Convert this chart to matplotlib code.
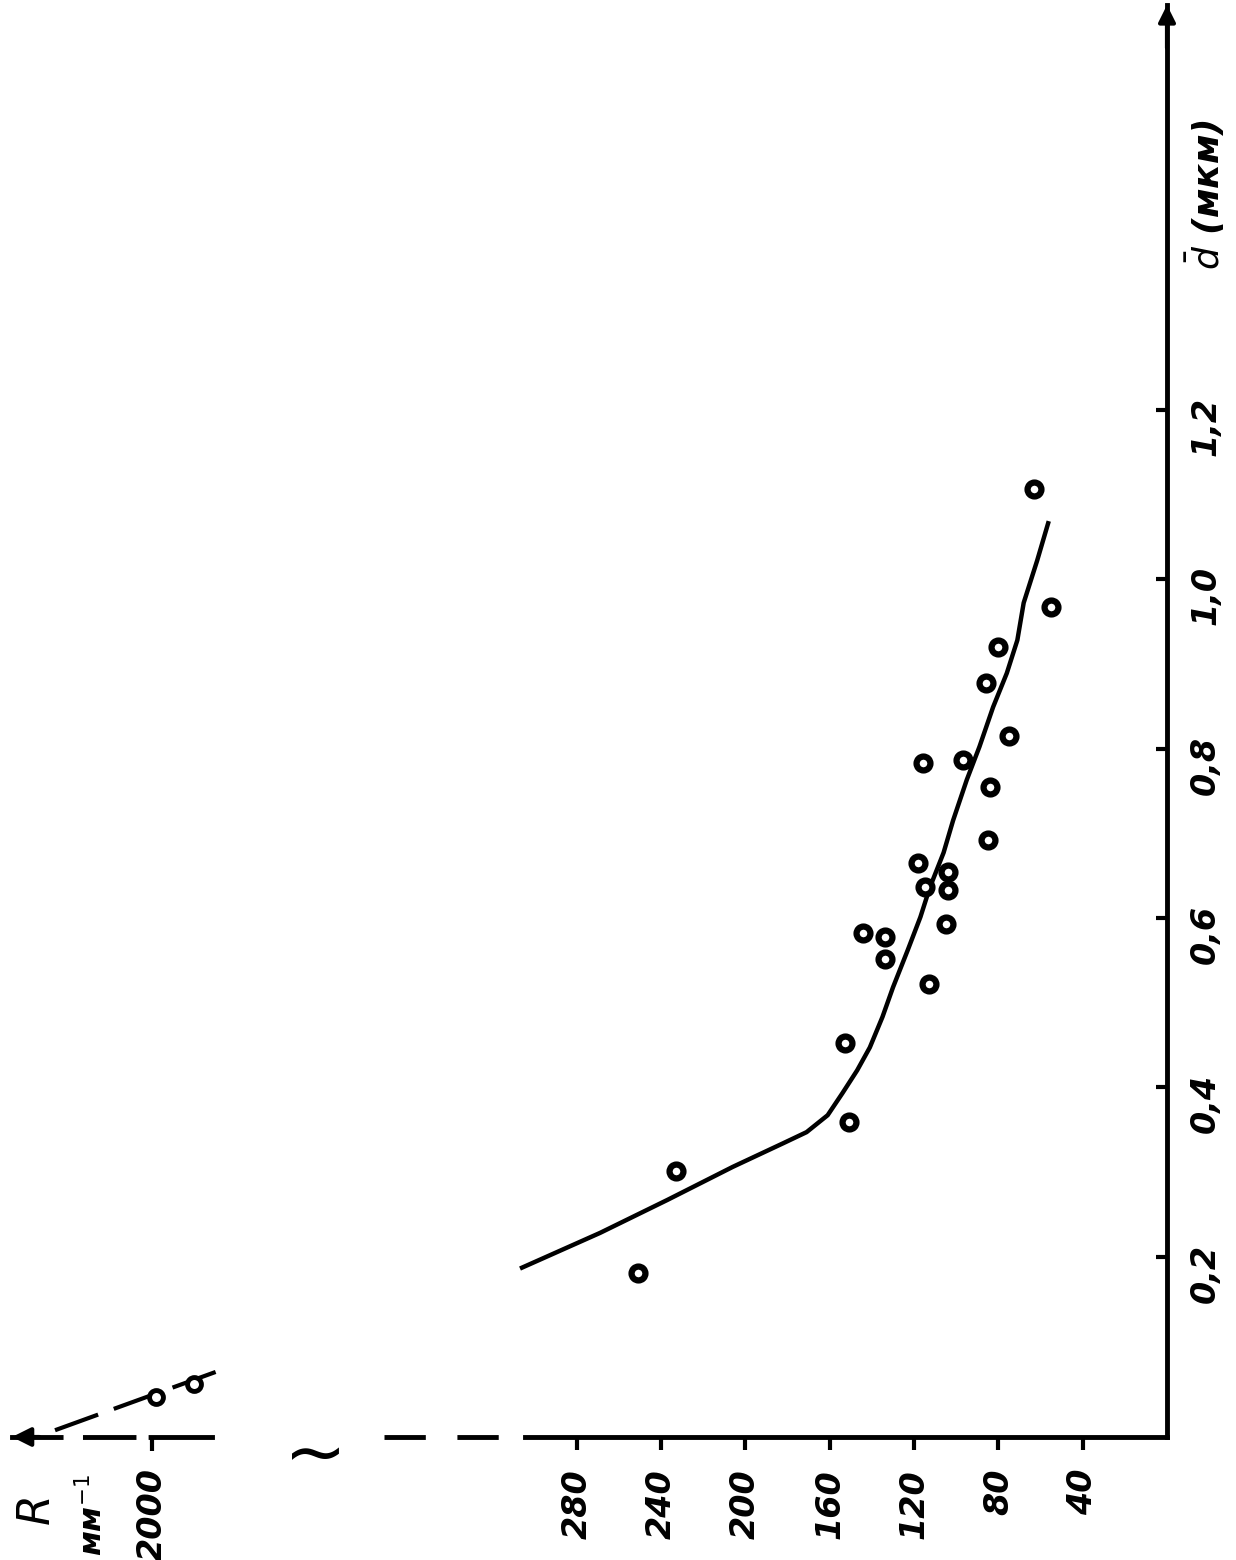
import matplotlib.pyplot as plt

# Измерения: R (мм^-1) и средний размер d (мкм)
R_pts = [251, 233, 153, 151, 144, 134, 134, 113, 105, 104, 104, 115, 118,
         85, 84, 97, 116, 75, 86, 80, 55, 63]
d_pts = [0.181, 0.301, 0.452, 0.359, 0.582, 0.577, 0.551, 0.522, 0.593,
         0.654, 0.633, 0.636, 0.665, 0.692, 0.754, 0.786, 0.783, 0.815,
         0.877, 0.920, 0.967, 1.106]

# Сглаживающая кривая
R_curve = [306, 269, 237, 206, 182, 171, 161, 154, 147, 141, 135, 130,
           123, 117, 112.5, 106, 101.5, 95, 89, 82.5, 76, 71, 68, 61.6, 56.4]
d_curve = [0.187, 0.228, 0.267, 0.306, 0.334, 0.347, 0.367, 0.393, 0.420,
           0.447, 0.483, 0.518, 0.562, 0.601, 0.636, 0.677, 0.715, 0.763,
           0.802, 0.849, 0.889, 0.928, 0.972, 1.022, 1.066]

# Точки около R = 2000 (после разрыва оси)
R_far = [1998, 1980]
d_far = [0.034, 0.050]
R_far_line = [2046, 1963]
d_far_line = [-0.005, 0.070]

R_ticks = [40, 80, 120, 160, 200, 240, 280]
d_ticks = [0.2, 0.4, 0.6, 0.8, 1.0, 1.2]
d_tick_labels = ['0,2', '0,4', '0,6', '0,8', '1,0', '1,2']

W, H = 1236, 1560


def rect(x0, x1, y_top, y_bot):
    return [x0 / W, 1 - y_bot / H, (x1 - x0) / W, (y_bot - y_top) / H]


fig = plt.figure(figsize=(12.36, 15.6), dpi=100)
fig.patch.set_facecolor('white')

# основная область (график повернут: R влево, d вверх)
ax = fig.add_axes(rect(525, 1167, 5, 1437))
ax.set_xlim(304.6, 0)
ax.set_ylim(-0.013, 1.678)
ax.patch.set_alpha(0)

ax.plot(R_curve, d_curve, color='k', lw=3.2, clip_on=False,
        solid_joinstyle='round')
ax.plot(R_pts, d_pts, 'o', ms=10, mfc='white', mec='k', mew=4.5,
        clip_on=False, zorder=3)

ax.spines[['left', 'top']].set_visible(False)
for s in ['bottom', 'right']:
    ax.spines[s].set_linewidth(3.5)

ax.yaxis.tick_right()
ax.set_xticks(R_ticks, [str(v) for v in R_ticks], rotation=90)
ax.tick_params(axis='x', direction='out', length=9, width=3, pad=14,
               labelsize=24)
ax.set_yticks(d_ticks, d_tick_labels, rotation=90)
ax.tick_params(axis='y', direction='in', length=8, width=3, pad=16,
               labelsize=24)
for lab in ax.get_xticklabels() + ax.get_yticklabels():
    lab.set_fontweight('bold')
    lab.set_fontstyle('italic')

# стрелка оси d
ax.annotate('', xy=(1, 1.0), xycoords='axes fraction', xytext=(1, 0.97),
            arrowprops=dict(arrowstyle='-|>', color='k', lw=3,
                            mutation_scale=25, shrinkA=0, shrinkB=0))

# пунктир разрыва оси R
ax.plot([371.4, 304.6], [0, 0], transform=ax.get_xaxis_transform(),
        color='k', lw=3.5, dashes=(8.5, 6.5), clip_on=False)
fig.text(315 / W, 1 - 1457 / H, '~', fontsize=54, ha='center', va='center')

# подпись оси d
fig.text(1205 / W, 1 - 195 / H, r'$\bar{d}$ (мкм)', rotation=90,
         fontsize=26, fontweight='bold', fontstyle='italic',
         ha='center', va='center')

# левая часть оси R (около 2000)
axl = fig.add_axes(rect(12, 240, 5, 1437))
axl.set_xlim(2066.4, 1958.3)
axl.set_ylim(-0.013, 1.678)
axl.patch.set_alpha(0)
axl.spines[['left', 'top', 'right']].set_visible(False)
axl.spines['bottom'].set_linewidth(3.5)
axl.spines['bottom'].set_bounds(2066.4, 1971.5)
axl.spines['bottom'].set_linestyle((0, (10, 5, 10, 3.5, 20, 2)))
axl.set_yticks([])
axl.set_xticks([2000], ['2000'], rotation=90)
axl.tick_params(axis='x', direction='out', length=10, width=3, pad=12,
                labelsize=24)
for lab in axl.get_xticklabels():
    lab.set_fontweight('bold')
    lab.set_fontstyle('italic')

axl.annotate('', xy=(0, 0), xycoords='axes fraction', xytext=(0.12, 0),
             arrowprops=dict(arrowstyle='-|>', color='k', lw=3,
                             mutation_scale=28, shrinkA=0, shrinkB=0))

axl.plot(R_far_line, d_far_line, color='k', lw=3, dashes=(11, 4),
         clip_on=False)
axl.plot(R_far, d_far, 'o', ms=10, mfc='white', mec='k', mew=3.5,
         clip_on=False, zorder=3)

fig.text(36 / W, 1 - 1509 / H, 'R', rotation=90, fontsize=32,
         fontstyle='italic', ha='center', va='center')
fig.text(92 / W, 1 - 1515 / H, 'мм$^{-1}$', rotation=90, fontsize=22,
         fontweight='bold', fontstyle='italic', ha='center', va='center')

fig.savefig('out.png', dpi=100)
